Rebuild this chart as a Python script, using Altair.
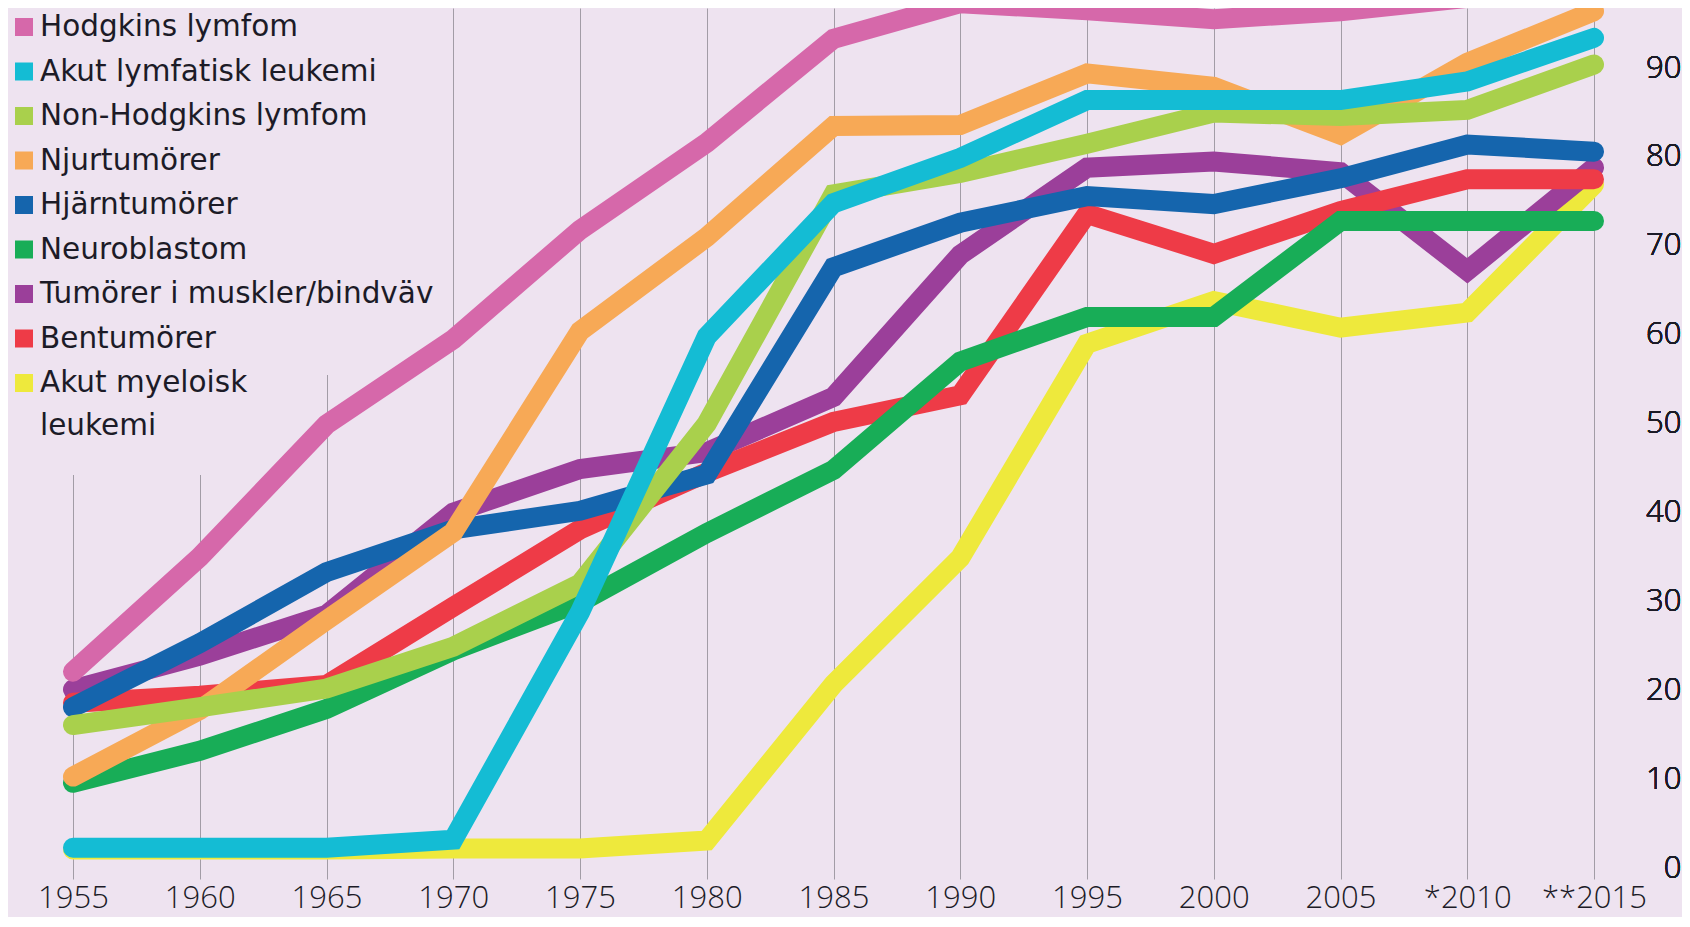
import altair as alt
import pandas as pd

# ---------------- data ----------------
years = ["1955", "1960", "1965", "1970", "1975", "1980", "1985",
         "1990", "1995", "2000", "2005", "*2010", "**2015"]

series_names = [
    "Hodgkins lymfom",
    "Akut lymfatisk leukemi",
    "Non-Hodgkins lymfom",
    "Njurtumörer",
    "Hjärntumörer",
    "Neuroblastom",
    "Tumörer i muskler/bindväv",
    "Bentumörer",
    "Akut myeloisk leukemi",
]
series_colors = ["#D668AA", "#14BCD4", "#A9D04C", "#F7A956", "#1565AD",
                 "#18AD57", "#9B3F9A", "#EE3B47", "#EEE93C"]

hodgkins = [22.1, 35.0, 49.9, 59.5, 71.8, 81.6, 93.3, 97.3, 96.5, 95.5, 96.4, 97.9, 98.8]
akut_lymfatisk = [2.3, 2.3, 2.3, 3.2, 28.8, 59.8, 74.8, 79.9, 86.4, 86.4, 86.4, 88.5, 93.4]
non_hodgkins = [16.1, 18.1, 20.2, 24.9, 32.0, 50.0, 75.8, 78.2, 81.5, 85.0, 84.6, 85.3, 90.4]
njurtumorer = [10.3, 17.8, 27.9, 37.8, 60.4, 71.0, 83.5, 83.6, 89.4, 87.9, 82.5, 90.6, 96.4]
hjarntumorer = [18.1, 25.3, 33.3, 38.1, 40.2, 44.3, 67.6, 72.6, 75.6, 74.7, 77.6, 81.4, 80.6]
neuroblastom = [9.6, 13.2, 17.9, 24.5, 29.9, 37.7, 44.8, 57.0, 62.0, 62.0, 72.8, 72.8, 72.8]
muskler_bindvav = [20.1, 23.9, 28.5, 40.0, 44.9, 46.8, 53.0, 69.0, 78.8, 79.5, 78.3, 67.2, 78.8]
bentumorer = [18.6, 19.4, 20.6, 29.4, 38.1, 44.5, 50.2, 53.2, 73.6, 69.1, 73.9, 77.5, 77.5]
akut_myeloisk = [2.1, 2.1, 2.1, 2.2, 2.2, 3.1, 20.7, 34.9, 59.0, 63.8, 60.8, 62.5, 76.9]

all_values = [hodgkins, akut_lymfatisk, non_hodgkins, njurtumorer, hjarntumorer,
              neuroblastom, muskler_bindvav, bentumorer, akut_myeloisk]

# drawing order (bottom -> top)
draw_order = ["Akut myeloisk leukemi", "Tumörer i muskler/bindväv", "Bentumörer",
              "Neuroblastom", "Hjärntumörer", "Njurtumörer", "Non-Hodgkins lymfom",
              "Akut lymfatisk leukemi", "Hodgkins lymfom"]

y_ticks = [0, 10, 20, 30, 40, 50, 60, 70, 80, 90]

# ---------------- tables ----------------
rows = []
for name, vals in zip(series_names, all_values):
    for yr, v in zip(years, vals):
        rows.append({"year": yr, "serie": name, "value": v})
df = pd.DataFrame(rows)

legend_df = pd.DataFrame({
    "serie": series_names,
    "label": [n.replace("myeloisk ", "myeloisk\n") for n in series_names],
})

# ---------------- style ----------------
BG = "#EEE3F0"
TEXT = "#1C1B27"
FONT = "Open Sans"
LEG_FONT = "DejaVu Sans"

color = alt.Color("serie:N", scale=alt.Scale(domain=series_names, range=series_colors),
                  legend=None)

x_enc = alt.X("year:O", sort=years,
              scale=alt.Scale(type="point", padding=0),
              axis=alt.Axis(title=None, orient="bottom", grid=True, gridColor="#A29CA6",
                            gridWidth=1, domain=False, ticks=False, labelAngle=0,
                            labelFont=FONT, labelFontSize=31, labelFontWeight=300,
                            labelColor=TEXT, labelPadding=4))
y_enc = alt.Y("value:Q",
              scale=alt.Scale(domain=[-1.22, 96.76], nice=False, zero=False),
              axis=alt.Axis(title=None, orient="right", values=y_ticks, grid=False,
                            domain=False, ticks=False, labelAlign="right",
                            labelBaseline="middle", labelPadding=87,
                            labelFont=FONT, labelFontSize=31, labelFontWeight=300,
                            labelColor=TEXT))

one = pd.DataFrame({"m": [0]})
# masks hiding grid lines behind the legend text
mask1 = alt.Chart(one).mark_rect(color=BG).encode(
    x=alt.value(-65), x2=alt.value(187), y=alt.value(-10), y2=alt.value(467))
mask2 = alt.Chart(one).mark_rect(color=BG).encode(
    x=alt.value(187), x2=alt.value(267), y=alt.value(-10), y2=alt.value(367))

layers = [mask1, mask2]
for name in draw_order:
    layers.append(
        alt.Chart(df).transform_filter(alt.datum.serie == name)
        .mark_line(strokeWidth=20, strokeCap="round", strokeJoin="miter", clip=False)
        .encode(x=x_enc, y=y_enc, color=color)
    )

leg_y = alt.Y("serie:N", sort=series_names,
              scale=alt.Scale(type="point", range=[19, 375], padding=0), axis=None)

leg_squares = alt.Chart(legend_df).mark_square(size=324, opacity=1).encode(
    x=alt.value(-49), y=leg_y, color=color)
leg_text = alt.Chart(legend_df).mark_text(
    align="left", baseline="middle", font=LEG_FONT, fontSize=29.5, color=TEXT,
    lineBreak="\n", lineHeight=43).encode(
    x=alt.value(-33), y=leg_y, text="label:N")

chart = (
    alt.layer(*layers, leg_squares, leg_text)
    .resolve_scale(y="independent")
    .properties(width=1521, height=871,
                autosize=alt.AutoSizeParams(type="none"),
                padding={"left": 65, "top": 0, "right": 88, "bottom": 38})
    .configure(background=BG)
    .configure_view(stroke=None)
)

chart.save("out.html", embed_options={"renderer": "svg", "actions": False})
